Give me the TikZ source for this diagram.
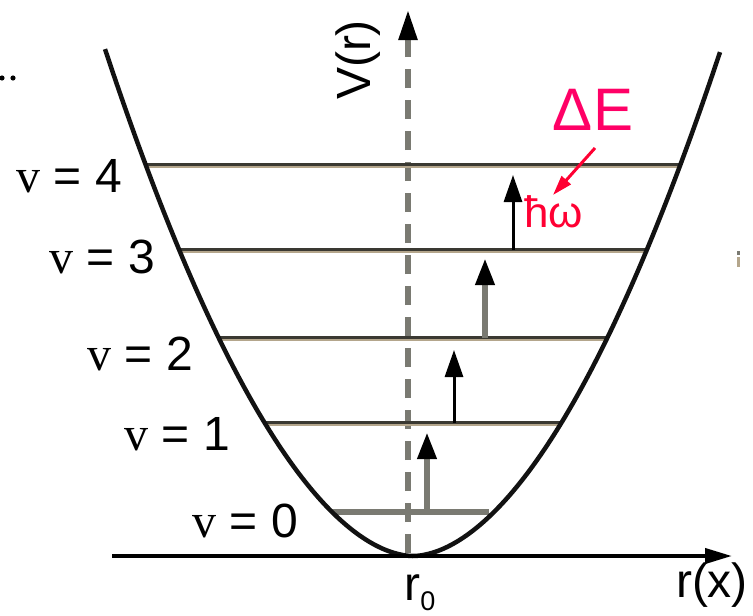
\documentclass[tikz,border=0pt]{standalone}
\usepackage{fontspec}
\setmainfont{Liberation Serif}
\setsansfont{Liberation Sans}
\usepackage{xcolor}
\usepackage{tikz}
\usetikzlibrary{arrows.meta}

\definecolor{axisgray}{RGB}{122,122,114}
\definecolor{levdark}{RGB}{58,57,50}
\definecolor{levtan}{RGB}{180,166,140}
\definecolor{hotpink}{RGB}{255,0,102}
\definecolor{hwred}{RGB}{255,0,51}

\begin{document}
\begin{tikzpicture}[
    x=1pt, y=-1pt,
    every node/.style={font=\sffamily\fontsize{48}{56}\selectfont, inner sep=0pt},
    well/.style={draw=black!93, line width=4.5pt, line join=round},
    level/.style={draw=levdark, line width=3pt},
    levelshade/.style={draw=levtan, line width=2pt},
    jump/.style={-{Triangle[length=27pt, width=18pt, color=black]}},
    pointer/.style={draw=hwred, line width=3pt, -{Triangle[length=20pt, width=12pt]}},
    lbl/.style={anchor=base east}
]
    \useasboundingbox (0,0) rectangle (753,616);

    % Axes
    \coordinate (origin) at (408,553);
    \coordinate (vtop) at (408,10);
    \coordinate (xleft) at (112,556);
    \coordinate (xright) at (732,556);
    \draw[axisgray, line width=5.5pt, dash pattern=on 19pt off 12pt,
          -{Triangle[length=30pt, width=18pt, color=black]}] (origin) -- (vtop);

    % Energy levels
    \foreach \y/\xl/\xr in {165/146/680, 250/179/647, 338/219/607, 423/265/561} {
        \draw[levelshade] (\xl,\y+1.6) -- (\xr,\y+1.6);
        \draw[level] (\xl,\y-0.6) -- (\xr,\y-0.6);
    }
    \draw[axisgray, line width=6pt] (332,512) -- (489,512);

    % Potential well
    \draw[well] plot[domain=105:720, samples=121, smooth]
        (\x, {556-64.7*pow(abs(\x-413)/100+0.0001,1.83)});
    \draw[line width=4pt, -{Triangle[length=27pt, width=15pt]}] (xleft) -- (xright);

    % Transitions
    \coordinate (a0) at (427,512);  \coordinate (b0) at (427,432);
    \coordinate (a1) at (454,423);  \coordinate (b1) at (454,350);
    \coordinate (a2) at (485,338);  \coordinate (b2) at (485,258);
    \coordinate (a3) at (513,250);  \coordinate (b3) at (513,175);
    \draw[jump, axisgray, line width=6.5pt] (a0) -- (b0);
    \draw[jump, black, line width=3pt] (a1) -- (b1);
    \draw[jump, axisgray, line width=6.5pt] (a2) -- (b2);
    \draw[jump, black, line width=3pt] (a3) -- (b3);

    % Labels
    \node[lbl] (v4) at (122,192) {{\rmfamily v} = 4};
    \node[lbl] (v3) at (155,273) {{\rmfamily v} = 3};
    \node[lbl] (v2) at (193,370) {{\rmfamily v} = 2};
    \node[lbl] (v1) at (230,450) {{\rmfamily v} = 1};
    \node[lbl] (v0) at (298,537) {{\rmfamily v} = 0};

    \node[rotate=90, anchor=base] (Vr) at (370,60) {V(r)};
    \node[anchor=base] (rx) at (712,597) {r(x)};
    \node[anchor=base] (r0) at (420,600) {r\raisebox{-10pt}{\fontsize{27}{27}\selectfont 0}};

    \node[anchor=base, text=hotpink, font=\sffamily\fontsize{60}{66}\selectfont] (dE) at (593,130) {ΔE};
    \node[anchor=base west, text=hwred, font=\sffamily\fontsize{44}{50}\selectfont] (hw) at (524,227) {ħω};
    \coordinate (p1) at (595,148);
    \coordinate (p2) at (553,195);
    \draw[pointer] (p1) -- (p2);

    % Stray marks
    \fill (2,78) circle (2.6pt);
    \fill (13,78) circle (2.6pt);
    \draw[axisgray, line width=3pt] (738,251) -- (738,255);
    \draw[levtan, line width=3pt] (738,257) -- (738,267);

\end{tikzpicture}
\end{document}
